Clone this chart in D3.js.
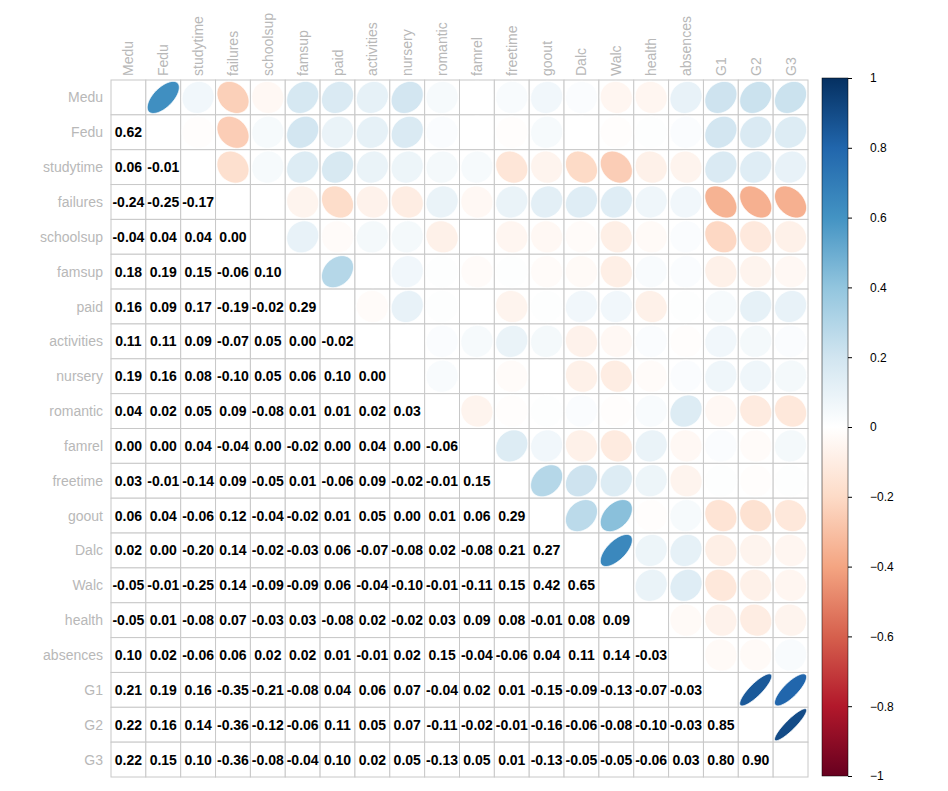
<!DOCTYPE html>
<html><head><meta charset="utf-8">
<script src="https://cdn.jsdelivr.net/npm/d3@7"></script>
<style>body{margin:0;background:#fff;font-family:"Liberation Sans",Arial,sans-serif}</style>
</head><body><div id="viz"></div>
<script>
const vars = ['Medu','Fedu','studytime','failures','schoolsup','famsup','paid','activities','nursery','romantic','famrel','freetime','goout','Dalc','Walc','health','absences','G1','G2','G3'];
// lower triangle, row i has i values (columns 0..i-1)
const lower = [
  [],
  [0.62],
  [0.06,-0.01],
  [-0.24,-0.25,-0.17],
  [-0.04,0.04,0.04,0.00],
  [0.18,0.19,0.15,-0.06,0.10],
  [0.16,0.09,0.17,-0.19,-0.02,0.29],
  [0.11,0.11,0.09,-0.07,0.05,0.00,-0.02],
  [0.19,0.16,0.08,-0.10,0.05,0.06,0.10,0.00],
  [0.04,0.02,0.05,0.09,-0.08,0.01,0.01,0.02,0.03],
  [0.00,0.00,0.04,-0.04,0.00,-0.02,0.00,0.04,0.00,-0.06],
  [0.03,-0.01,-0.14,0.09,-0.05,0.01,-0.06,0.09,-0.02,-0.01,0.15],
  [0.06,0.04,-0.06,0.12,-0.04,-0.02,0.01,0.05,0.00,0.01,0.06,0.29],
  [0.02,0.00,-0.20,0.14,-0.02,-0.03,0.06,-0.07,-0.08,0.02,-0.08,0.21,0.27],
  [-0.05,-0.01,-0.25,0.14,-0.09,-0.09,0.06,-0.04,-0.10,-0.01,-0.11,0.15,0.42,0.65],
  [-0.05,0.01,-0.08,0.07,-0.03,0.03,-0.08,0.02,-0.02,0.03,0.09,0.08,-0.01,0.08,0.09],
  [0.10,0.02,-0.06,0.06,0.02,0.02,0.01,-0.01,0.02,0.15,-0.04,-0.06,0.04,0.11,0.14,-0.03],
  [0.21,0.19,0.16,-0.35,-0.21,-0.08,0.04,0.06,0.07,-0.04,0.02,0.01,-0.15,-0.09,-0.13,-0.07,-0.03],
  [0.22,0.16,0.14,-0.36,-0.12,-0.06,0.11,0.05,0.07,-0.11,-0.02,-0.01,-0.16,-0.06,-0.08,-0.10,-0.03,0.85],
  [0.22,0.15,0.10,-0.36,-0.08,-0.04,0.10,0.02,0.05,-0.13,0.05,0.01,-0.13,-0.05,-0.05,-0.06,0.03,0.80,0.90]
];
const barTicks = [1,0.8,0.6,0.4,0.2,0,-0.2,-0.4,-0.6,-0.8,-1];
const palette = ["#67001F","#B2182B","#D6604D","#F4A582","#FDDBC7","#FFFFFF","#D1E5F0","#92C5DE","#4393C3","#2166AC","#053061"];

const W = 948, H = 791;
const svg = d3.select('#viz').append('svg').attr('width', W).attr('height', H);
const gLeft = 111, gTop = 80, size = 697;
const band = d3.scaleBand().domain(vars).range([0, size]);
const bw = band.bandwidth();
const color = d3.scaleLinear().domain(d3.range(11).map(i => -1 + i * 0.2)).range(palette).interpolate(d3.interpolateRgb);
const r = (i, j) => i > j ? lower[i][j] : lower[j][i];

const g = svg.append('g').attr('transform', `translate(${gLeft},${gTop})`);
const ellPts = (rho) => {
  const d = Math.acos(Math.max(-1, Math.min(1, rho)));
  const s = bw * 0.46;
  return d3.range(0, 101).map(k => {
    const t = k / 100 * 2 * Math.PI;
    return [Math.cos(t + d / 2) * s, -Math.cos(t - d / 2) * s];
  });
};
vars.forEach((vi, i) => vars.forEach((vj, j) => {
  const x = band(vj), y = band(vi);
  g.append('rect').attr('x', x).attr('y', y).attr('width', bw).attr('height', bw)
    .attr('fill', '#fff').attr('stroke', '#c8c8c8');
  if (i === j) return;
  const v = r(i, j);
  if (i > j) {
    g.append('text').attr('x', x + bw / 2).attr('y', y + bw / 2 + 5)
      .attr('text-anchor', 'middle').attr('font-weight', 'bold').attr('font-size', 14)
      .text(v.toFixed(2));
  } else {
    g.append('path').attr('transform', `translate(${x + bw / 2},${y + bw / 2})`)
      .attr('d', d3.line()(ellPts(v)) + 'Z').attr('fill', color(v)).attr('stroke', '#fff').attr('stroke-width', 0.8);
  }
}));
vars.forEach(v => {
  g.append('text').attr('x', -8).attr('y', band(v) + bw / 2 + 5).attr('text-anchor', 'end')
    .attr('fill', '#b8b8b8').attr('font-size', 14).text(v);
  g.append('text').attr('transform', `translate(${band(v) + bw / 2 + 5},-4) rotate(-90)`)
    .attr('fill', '#b8b8b8').attr('font-size', 14).text(v);
});

// colour bar
const by = d3.scaleLinear().domain([1, -1]).range([78, 776]);
const defs = svg.append('defs');
const grad = defs.append('linearGradient').attr('id', 'cb').attr('x1', 0).attr('y1', 1).attr('x2', 0).attr('y2', 0);
palette.forEach((c, i) => grad.append('stop').attr('offset', i / 10).attr('stop-color', c));
svg.append('rect').attr('x', 822).attr('y', by(1)).attr('width', 26).attr('height', by(-1) - by(1))
  .attr('fill', 'url(#cb)').attr('stroke', '#000').attr('stroke-width', 0.5);
const axis = d3.axisRight(by).tickValues(barTicks).tickSize(4).tickFormat(d => d3.format('')(d));
svg.append('g').attr('transform', 'translate(848,0)').call(axis)
  .call(s => s.select('.domain').remove())
  .call(s => s.selectAll('text').attr('font-size', 12).attr('x', 22).attr('text-anchor', 'start')
    .attr('font-family', '"Liberation Sans",Arial,sans-serif'));
</script></body></html>
